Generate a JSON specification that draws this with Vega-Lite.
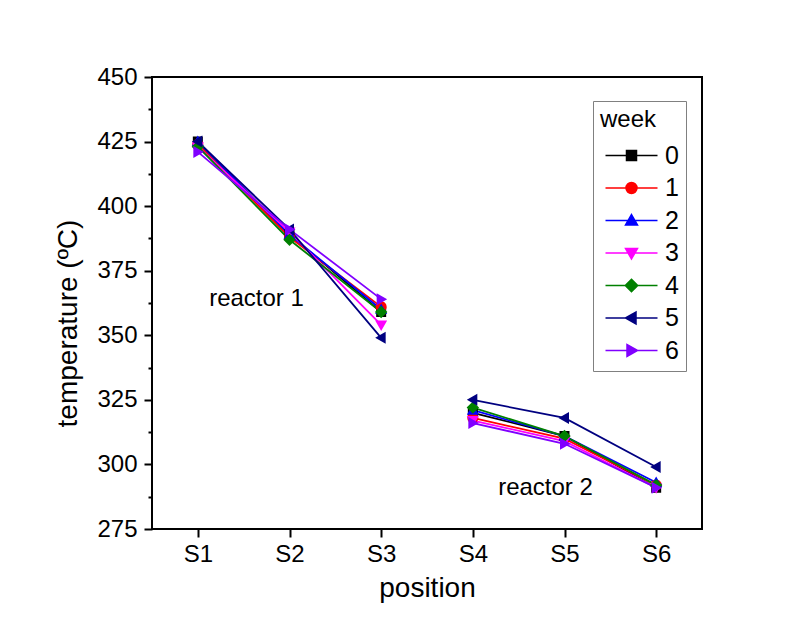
{
  "$schema": "https://vega.github.io/schema/vega-lite/v6.json",
  "width": 550,
  "height": 452,
  "autosize": {"type": "none"},
  "padding": {"left": 152, "top": 77, "right": 96, "bottom": 96},
  "background": "white",
  "config": {
    "font": "Liberation Sans",
    "view": {"stroke": "black", "strokeWidth": 2},
    "axis": {"domain": false, "grid": false, "tickColor": "black", "tickWidth": 2, "labelColor": "black", "titleColor": "black", "labelFontSize": 24, "titleFontSize": 28, "titleFontWeight": "normal"}
  },
  "datasets": {
    "temps": [
      {"week": "0", "position": "S1", "temp": 425, "reactor": "1"},
      {"week": "0", "position": "S2", "temp": 389, "reactor": "1"},
      {"week": "0", "position": "S3", "temp": 359, "reactor": "1"},
      {"week": "0", "position": "S4", "temp": 320, "reactor": "2"},
      {"week": "0", "position": "S5", "temp": 311, "reactor": "2"},
      {"week": "0", "position": "S6", "temp": 291, "reactor": "2"},
      {"week": "1", "position": "S1", "temp": 424, "reactor": "1"},
      {"week": "1", "position": "S2", "temp": 388, "reactor": "1"},
      {"week": "1", "position": "S3", "temp": 361, "reactor": "1"},
      {"week": "1", "position": "S4", "temp": 318, "reactor": "2"},
      {"week": "1", "position": "S5", "temp": 310, "reactor": "2"},
      {"week": "1", "position": "S6", "temp": 292, "reactor": "2"},
      {"week": "2", "position": "S1", "temp": 425, "reactor": "1"},
      {"week": "2", "position": "S2", "temp": 389, "reactor": "1"},
      {"week": "2", "position": "S3", "temp": 360, "reactor": "1"},
      {"week": "2", "position": "S4", "temp": 321, "reactor": "2"},
      {"week": "2", "position": "S5", "temp": 311, "reactor": "2"},
      {"week": "2", "position": "S6", "temp": 293, "reactor": "2"},
      {"week": "3", "position": "S1", "temp": 423, "reactor": "1"},
      {"week": "3", "position": "S2", "temp": 390, "reactor": "1"},
      {"week": "3", "position": "S3", "temp": 354, "reactor": "1"},
      {"week": "3", "position": "S4", "temp": 317, "reactor": "2"},
      {"week": "3", "position": "S5", "temp": 309, "reactor": "2"},
      {"week": "3", "position": "S6", "temp": 291, "reactor": "2"},
      {"week": "4", "position": "S1", "temp": 423, "reactor": "1"},
      {"week": "4", "position": "S2", "temp": 387, "reactor": "1"},
      {"week": "4", "position": "S3", "temp": 359, "reactor": "1"},
      {"week": "4", "position": "S4", "temp": 322, "reactor": "2"},
      {"week": "4", "position": "S5", "temp": 311, "reactor": "2"},
      {"week": "4", "position": "S6", "temp": 292, "reactor": "2"},
      {"week": "5", "position": "S1", "temp": 425, "reactor": "1"},
      {"week": "5", "position": "S2", "temp": 391, "reactor": "1"},
      {"week": "5", "position": "S3", "temp": 349, "reactor": "1"},
      {"week": "5", "position": "S4", "temp": 325, "reactor": "2"},
      {"week": "5", "position": "S5", "temp": 318, "reactor": "2"},
      {"week": "5", "position": "S6", "temp": 299, "reactor": "2"},
      {"week": "6", "position": "S1", "temp": 421, "reactor": "1"},
      {"week": "6", "position": "S2", "temp": 391, "reactor": "1"},
      {"week": "6", "position": "S3", "temp": 364, "reactor": "1"},
      {"week": "6", "position": "S4", "temp": 316, "reactor": "2"},
      {"week": "6", "position": "S5", "temp": 308, "reactor": "2"},
      {"week": "6", "position": "S6", "temp": 291, "reactor": "2"}
    ],
    "notes": [
      {"label": "reactor 1", "position": "S2", "temp": 364, "shift": -33},
      {"label": "reactor 2", "position": "S5", "temp": 291, "shift": -19}
    ]
  },
  "encoding": {
    "x": {
      "field": "position", "type": "ordinal",
      "scale": {"type": "point", "domain": ["S1", "S2", "S3", "S4", "S5", "S6"], "padding": 0.5},
      "axis": {"title": "position", "labelAngle": 0, "tickSize": 8, "labelPadding": 5, "titlePadding": 8}
    },
    "y": {
      "field": "temp", "type": "quantitative",
      "scale": {"domain": [275, 450], "nice": false, "zero": false},
      "axis": {
        "title": "temperature (ºC)",
        "values": [275, 287.5, 300, 312.5, 325, 337.5, 350, 362.5, 375, 387.5, 400, 412.5, 425, 437.5, 450],
        "labelExpr": "datum.value % 25 === 0 ? datum.label : ''",
        "tickSize": {"condition": {"test": "datum.value % 25 === 0", "value": 8}, "value": 4},
        "labelPadding": 7,
        "titlePadding": 14,
        "titleY": 246
      }
    }
  },
  "layer": [
    {
      "data": {"name": "temps"},
      "mark": {"type": "line", "strokeWidth": 1.8},
      "encoding": {
        "color": {"field": "week", "type": "nominal"},
        "detail": [{"field": "week"}, {"field": "reactor"}],
        "order": {"field": "position"}
      }
    },
    {
      "data": {"name": "temps"},
      "mark": {"type": "point", "filled": true, "opacity": 1, "size": 400, "strokeWidth": 0},
      "encoding": {
        "color": {
          "field": "week", "type": "nominal",
          "scale": {"domain": ["0", "1", "2", "3", "4", "5", "6"], "range": ["#000000", "#FF0000", "#0000FF", "#FF00FF", "#008000", "#000080", "#8000FF"]},
          "legend": {
            "title": "week",
            "orient": "none",
            "legendX": 441,
            "legendY": 24,
            "strokeColor": "#808080",
            "padding": 7,
            "titleFontSize": 24,
            "titleFontWeight": "normal",
            "titleColor": "black",
            "labelFontSize": 25,
            "labelColor": "black",
            "symbolSize": 400,
            "symbolOffset": 19,
            "labelOffset": 21,
            "rowPadding": 6.5,
            "titlePadding": 11,
            "encode": {
              "symbols": {
                "update": {
                  "fill": {"scale": "color", "field": "value"},
                  "stroke": {"scale": "color", "field": "value"},
                  "strokeWidth": {"value": 1.6},
                  "opacity": {"value": 1},
                  "fillOpacity": {"value": 1},
                  "strokeOpacity": {"value": 1}
                }
              }
            }
          }
        },
        "shape": {
          "field": "week", "type": "nominal",
          "scale": {
            "domain": ["0", "1", "2", "3", "4", "5", "6"],
            "range": [
              "M-2.6,0H2.6M-0.5,-0.5H0.5V0.5H-0.5Z",
              "M-2.6,0H2.6M-0.55,0A0.55,0.55 0 1,0 0.55,0A0.55,0.55 0 1,0 -0.55,0Z",
              "M-2.6,0H2.6M0,-0.6L0.6,0.45H-0.6Z",
              "M-2.6,0H2.6M0,0.6L0.6,-0.45H-0.6Z",
              "M-2.6,0H2.6M0,-0.62L0.62,0L0,0.62L-0.62,0Z",
              "M-2.6,0H2.6M-0.6,0L0.45,-0.6V0.6Z",
              "M-2.6,0H2.6M0.6,0L-0.45,-0.6V0.6Z"
            ]
          },
          "legend": {"title": "week"}
        }
      }
    },
    {
      "data": {"name": "notes"},
      "mark": {"type": "text", "fontSize": 24, "color": "black", "align": "center", "baseline": "middle"},
      "encoding": {
        "text": {"field": "label"},
        "xOffset": {"field": "shift", "type": "quantitative", "scale": null}
      }
    }
  ]
}
